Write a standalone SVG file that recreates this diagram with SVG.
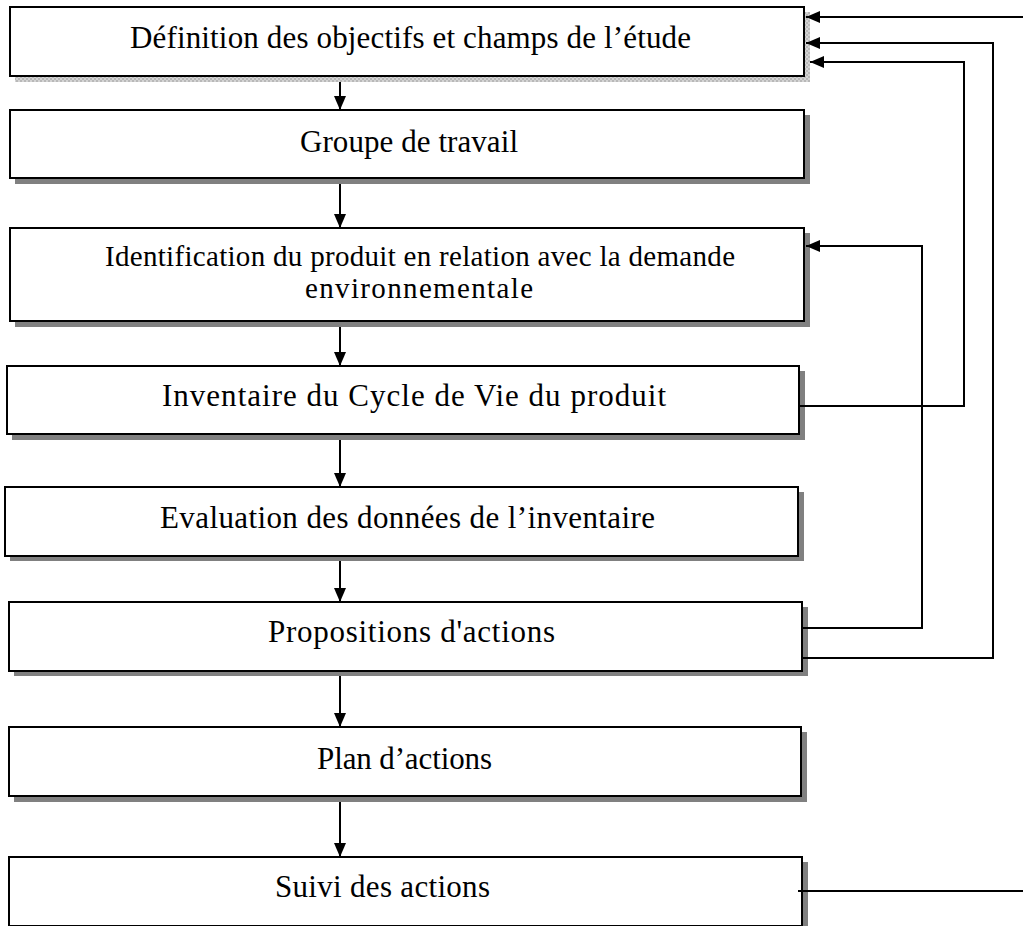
<svg xmlns="http://www.w3.org/2000/svg" width="1023" height="926" viewBox="0 0 1023 926">
<defs>
<pattern id="hatch" width="4" height="4" patternUnits="userSpaceOnUse">
<rect width="4" height="4" fill="#d4d4d4"/>
<rect width="2" height="2" fill="#b8b8b8"/>
<rect x="2" y="2" width="2" height="2" fill="#b8b8b8"/>
</pattern>
<marker id="ah" markerWidth="14" markerHeight="12" refX="14" refY="6" orient="auto" markerUnits="userSpaceOnUse">
<path d="M0,0 L14,6 L0,12 Z" fill="#000"/>
</marker>
</defs>
<style>
.box{fill:#fff;stroke:#000;stroke-width:2}
.sh{fill:#808080}
.shh{fill:url(#hatch)}
.t{font-family:"Liberation Serif","Times New Roman",serif;font-size:31px;fill:#000}
.ts{font-family:"Liberation Serif","Times New Roman",serif;font-size:29px;fill:#000}
.c{fill:none;stroke:#000;stroke-width:2}
</style>
<g id="n1">
<rect class="shh" x="15" y="12" width="795" height="70"/>
<rect class="box" x="10" y="7" width="794" height="69"/>
<text class="t" x="130" y="48" textLength="561" lengthAdjust="spacing">Définition des objectifs et champs de l’étude</text>
</g>
<g id="n2">
<rect class="sh" x="15" y="115" width="795" height="69"/>
<rect class="box" x="10" y="110" width="794" height="68"/>
<text class="t" x="300" y="152" textLength="218" lengthAdjust="spacing">Groupe de travail</text>
</g>
<g id="n3">
<rect class="sh" x="15" y="233" width="795" height="94"/>
<rect class="box" x="10" y="228" width="794" height="93"/>
<text class="ts" x="105" y="266" textLength="630" lengthAdjust="spacing">Identification du produit en relation avec la demande</text>
<text class="ts" x="305" y="298" textLength="228" lengthAdjust="spacing">environnementale</text>
</g>
<g id="n4">
<rect class="sh" x="12" y="371" width="793" height="69"/>
<rect class="box" x="7" y="366" width="792" height="68"/>
<text class="t" x="162" y="406" textLength="504" lengthAdjust="spacing">Inventaire du Cycle de Vie du produit</text>
</g>
<g id="n5">
<rect class="sh" x="10" y="492" width="794" height="69"/>
<rect class="box" x="5" y="487" width="793" height="69"/>
<text class="t" x="160" y="528" textLength="495" lengthAdjust="spacing">Evaluation des données de l’inventaire</text>
</g>
<g id="n6">
<rect class="sh" x="14" y="607" width="794" height="69"/>
<rect class="box" x="9" y="602" width="793" height="69"/>
<text class="t" x="268" y="642" textLength="287" lengthAdjust="spacing">Propositions d'actions</text>
</g>
<g id="n7">
<rect class="sh" x="14" y="732" width="793" height="70"/>
<rect class="box" x="9" y="727" width="792" height="69"/>
<text class="t" x="317" y="769" textLength="175" lengthAdjust="spacing">Plan d’actions</text>
</g>
<g id="n8">
<rect class="sh" x="14" y="862" width="794" height="70"/>
<rect class="box" x="9" y="857" width="793" height="69"/>
<text class="t" x="275" y="897" textLength="215" lengthAdjust="spacing">Suivi des actions</text>
</g>
<g id="connectors">
<line class="c" x1="340" y1="82" x2="340" y2="110" marker-end="url(#ah)"/>
<line class="c" x1="340" y1="184" x2="340" y2="228" marker-end="url(#ah)"/>
<line class="c" x1="340" y1="327" x2="340" y2="366" marker-end="url(#ah)"/>
<line class="c" x1="340" y1="440" x2="340" y2="487" marker-end="url(#ah)"/>
<line class="c" x1="340" y1="561" x2="340" y2="602" marker-end="url(#ah)"/>
<line class="c" x1="340" y1="676" x2="340" y2="727" marker-end="url(#ah)"/>
<line class="c" x1="340" y1="802" x2="340" y2="857" marker-end="url(#ah)"/>
<line class="c" x1="1023" y1="17" x2="806" y2="17" marker-end="url(#ah)"/>
<polyline class="c" points="802,658 993,658 993,43 806,43" marker-end="url(#ah)"/>
<polyline class="c" points="799,406 964,406 964,62 810,62" marker-end="url(#ah)"/>
<polyline class="c" points="802,628 922,628 922,246 806,246" marker-end="url(#ah)"/>
<line class="c" x1="798" y1="891" x2="1023" y2="891"/>
</g>
</svg>
